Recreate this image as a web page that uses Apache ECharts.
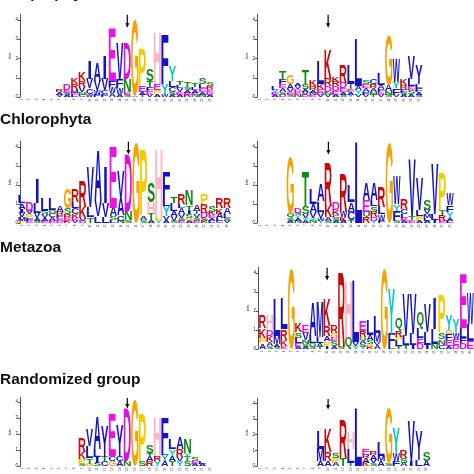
<!DOCTYPE html>
<html><head><meta charset="utf-8">
<script src="https://cdn.jsdelivr.net/npm/echarts@6/dist/echarts.min.js"></script>
<style>html,body{margin:0;padding:0;background:#fff}#c{width:474px;height:474px}</style>
</head><body><div id="c"></div>
<script>
// ---- data: each column lists [letter, bits] from bottom to top ('b' = drawn blue)
const titles = ['Streptophyta', 'Chlorophyta', 'Metazoa', 'Randomized group'];
const yTicks = [0, 1, 2, 3, 4];

const strepLeft = [
  [], [], [], [], [],
  [['V',.1],['A',.15],['R',.15]],
  [['A',.1],['S',.1],['E',.15],['D',.3]],
  [['L',.1],['E',.1],['M',.15],['R',.3],['K',.35]],
  [['C',.1],['N',.15],['V',.25],['R',.35],['K',.45]],
  [['W',.15],['C',.3],['V',.5],['I',.95]],
  [['F',.1],['W',.25],['V',.5],['A',.95]],
  [['F',.15],['C',.2],['V',.6],['I',1.2]],
  [['A',.2],['W',.3],['F',.35],['E',2.75]],
  [['A',.15],['W',.3],['F',.45],['V',1.95]],
  [['S',.1],['E',.15],['N',.7],['D',1.85]],
  [['A',.05],['G',3.95]],
  [['T',.1],['A',.15],['E',.35],['P',1.9]],
  [['V',.1],['E',.2],['F',.2],['T',.3],['S',.6]],
  [['A',.15],['P',.2],['E',.3],['H',2.7]],
  [['W',.15],['Y',.5],['F',2.55]],
  [['A',.1],['S',.15],['C',.25],['L',.35],['Y',.8]],
  [['A',.1],['E',.15],['V',.2],['L',.15],['T',.2]],
  [['R',.1],['E',.1],['A',.15],['S',.15],['T',.25]],
  [['N',.1],['E',.1],['A',.15],['L',.15],['T',.2]],
  [['N',.1],['A',.15],['E',.2],['L',.2],['S',.35]],
  [['A',.1],['D',.15],['E',.15],['R',.15],['S',.2]]
];
const strepRight = [
  [], [],
  [['A',.1],['E',.1],['Y',.15],['L',.2]],
  [['D',.1],['S',.15],['A',.2],['E',.2],['F',.25],['T',.45]],
  [['S',.1],['E',.15],['V',.15],['A',.25],['G',.45]],
  [['N',.1],['E',.15],['D',.15],['V',.15],['A',.15]],
  [['D',.1],['V',.15],['A',.15],['S',.3],['T',.75]],
  [['E',.1],['N',.1],['A',.15],['R',.2],['K',.3]],
  [['V',.1],['D',.1],['E',.2],['K',.25],['L',1.2]],
  [['V',.1],['N',.15],['D',.3],['R',.4],['K',1.55]],
  [['A',.1],['E',.2],['D',.25],['R',.25],['K',.25]],
  [['S',.1],['A',.15],['E',.2],['D',.3],['R',.95]],
  [['Y',.1],['A',.15],['E',.15],['T',.3],['L',1.0]],
  [['V',.15],['Y',.2],['A',.2],['L',2.45]],
  [['V',.1],['F',.15],['A',.2],['E',.2],['S',.2]],
  [['T',.1],['N',.15],['A',.2],['R',.2],['C',.25]],
  [['V',.1],['E',.15],['F',.15],['A',.2],['L',.6]],
  [['S',.1],['N',.2],['A',.3],['G',2.6]],
  [['V',.1],['F',.35],['Y',.35],['W',1.2]],
  [['A',.1],['S',.1],['F',.2],['R',.2],['K',.35]],
  [['A',.15],['S',.2],['E',.2],['L',.4],['V',1.2]],
  [['S',.1],['A',.15],['F',.2],['L',.2],['Y',1.0,'b']]
];
const chloroLeft = [
  [['P',.1],['M',.2],['V',.25],['I',.2],['A',.3],['L',.4]],
  [['E',.1],['F',.15],['P',.2],['V',.2],['D',.45]],
  [['S',.1],['A',.15],['V',.3],['L',.5],['I',1.3]],
  [['E',.1],['A',.15],['V',.2],['S',.2],['L',.7]],
  [['E',.1],['A',.2],['C',.2],['Q',.2],['L',.6]],
  [['D',.1],['E',.15],['F',.15],['R',.2],['A',.35]],
  [['K',.1],['E',.15],['R',.2],['S',.35],['G',1.0]],
  [['V',.1],['E',.15],['K',.2],['C',.35],['L',.3],['R',.7]],
  [['D',.1],['V',.15],['K',.6],['R',1.35]],
  [['T',.3],['L',.55],['V',2.1]],
  [['L',.35],['V',.8],['A',2.65]],
  [['L',.3],['V',.75],['I',1.9]],
  [['L',.15],['S',.2],['A',.45],['E',3.2]],
  [['N',.1],['C',.3],['A',.9],['V',1.4]],
  [['S',.15],['N',.45],['D',3.0]],
  [['G',4.25]],
  [['S',.15],['A',.2],['P',3.45]],
  [['A',.1],['T',.4],['H',.6],['S',1.05]],
  [['Y',.1],['P',.15],['H',3.6]],
  [['A',.15],['V',.2],['Y',.55],['L',.3],['F',1.5]],
  [['S',.1],['V',.25],['A',.3],['L',.4],['T',.35]],
  [['E',.1],['S',.15],['V',.2],['A',.35],['L',.2],['R',.55]],
  [['A',.1],['G',.15],['S',.2],['I',.2],['T',.3],['N',.8]],
  [['E',.1],['S',.15],['V',.2],['T',.2],['A',.35]],
  [['K',.1],['S',.15],['D',.3],['R',.45],['P',.55]],
  [['L',.1],['A',.15],['E',.15],['K',.2],['S',.35]],
  [['C',.1],['L',.15],['A',.25],['K',.3],['R',.55]],
  [['V',.1],['S',.15],['L',.2],['A',.35],['R',.55]]
];
const chloroRight = [
  [], [], [], [],
  [['A',.1],['S',.15],['Q',.25],['G',3.0]],
  [['N',.1],['A',.15],['Y',.15],['S',.15],['D',.25]],
  [['A',.1],['Y',.15],['V',.2],['S',.4],['T',1.85]],
  [['N',.1],['Y',.15],['V',.35],['A',.4],['L',.8]],
  [['Y',.1],['W',.15],['V',.35],['L',.55],['A',.85]],
  [['S',.1],['A',.2],['K',.6],['R',2.3]],
  [['A',.1],['S',.15],['C',.15],['K',.3],['D',.4]],
  [['A',.1],['K',.2],['W',.3],['R',2.0]],
  [['T',.15],['C',.45],['A',.5],['L',.9]],
  [['L',4.25]],
  [['R',.3],['Q',.3],['E',.6],['A',.85]],
  [['Y',.1],['D',.2],['R',.3],['S',.3],['L',.3],['A',.85]],
  [['F',.1],['W',.35],['L',.4],['R',1.05]],
  [['G',4.25]],
  [['S',.1],['F',.55],['Y',.35],['W',1.45]],
  [['A',.1],['E',.15],['L',.2],['C',.3],['R',.55]],
  [['E',.15],['T',.2],['V',2.95]],
  [['A',.1],['P',.25],['L',.35],['V',1.7]],
  [['A',.1],['L',.15],['M',.2],['V',.25],['S',.55]],
  [['I',.15],['L',.3],['V',2.6]],
  [['E',.1],['R',.3],['T',.25],['P',1.95]],
  [['L',.1],['A',.15],['Y',.35],['F',.35],['W',.6]]
];
const metazoaRight = [
  [['A',.3],['P',.3],['K',.5],['R',.7]],
  [['S',.15],['A',.2],['K',.35],['D',.35],['H',.75]],
  [['S',.1],['A',.15],['M',.45],['L',1.95]],
  [['E',.15],['K',.35],['R',.55],['L',1.6]],
  [['G',4.2]],
  [['A',.1],['E',.2],['L',.3],['S',.3],['K',.5]],
  [['A',.1],['S',.15],['N',.2],['V',.4],['E',.4]],
  [['S',.1],['Q',.2],['L',.4],['A',1.8]],
  [['T',.1],['A',.2],['L',.35],['M',1.85]],
  [['I',.1],['P',.3],['A',.3],['R',.5],['K',1.45]],
  [['A',.15],['S',.25],['E',.2],['G',.25],['R',.4]],
  [['S',.1],['R',3.9]],
  [['Q',.6],['H',3.0]],
  [['Y',.15],['V',.2],['L',3.25]],
  [['Y',.1],['S',.15],['A',.2],['Q',.2],['R',.3],['E',.5]],
  [['K',.1],['G',.15],['S',.2],['A',.3],['L',.8]],
  [['A',.2],['V',.15],['M',.5],['L',.85]],
  [['G',4.2]],
  [['L',.2],['F',.6],['Y',2.35]],
  [['T',.15],['L',.3],['P',.2],['R',.3],['Q',.65]],
  [['T',.2],['L',.5],['V',2.2]],
  [['I',.2],['L',.6],['V',2.1]],
  [['D',.3],['E',.3],['L',.5],['Q',.85]],
  [['I',.2],['L',.7],['V',1.5]],
  [['N',.25],['L',.8],['I',1.6]],
  [['C',.2],['N',.3],['S',.35],['P',2.0]],
  [['A',.15],['E',.3],['F',.35],['G',.2],['Y',.8]],
  [['D',.2],['E',.35],['W',.35],['Y',.7]],
  [['D',.3],['F',.3],['L',.5],['E',2.85]],
  [['E',.4],['L',.9],['W',1.6]]
];
const randomLeft = [
  [], [], [], [], [], [], [], [],
  [['S',.15],['P',.3],['K',.45],['R',.9]],
  [['G',.15],['T',.35],['L',.75],['V',1.0]],
  [['S',.2],['I',.4],['L',.5],['A',2.0]],
  [['C',.3],['T',.3],['Y',1.95,'b']],
  [['G',.3],['C',.35],['E',2.6]],
  [['A',.3],['C',.3],['Y',2.0,'b']],
  [['N',.35],['D',3.3]],
  [['G',4.15]],
  [['S',.3],['P',3.0]],
  [['R',.3],['A',.3],['T',.2],['S',.5]],
  [['Y',.3],['R',.35],['H',2.4]],
  [['A',.3],['Y',.4],['L',.3],['F',2.05]],
  [['T',.3],['A',.35],['Y',.4],['L',.6]],
  [['Y',.3],['V',.25],['R',.5],['A',.75]],
  [['S',.3],['T',.3],['Y',.2],['N',.85]],
  [['A',.15],['E',.15],['S',.2]],
  [['A',.15],['L',.15]],
  []
];
const randomRight = [
  [], [], [], [], [], [], [], [],
  [['A',.3],['M',.8],['L',1.15]],
  [['A',.3],['R',.6],['K',1.5]],
  [['A',.2],['P',.3],['S',.35]],
  [['T',.5],['R',2.45]],
  [['T',.2],['L',.9],['H',1.05]],
  [['L',3.7]],
  [['K',.2],['A',.3],['R',.2],['E',.4]],
  [['S',.2],['V',.2],['A',.3],['R',.2]],
  [['A',.3],['M',.35],['L',.9]],
  [['S',.2],['G',3.5]],
  [['F',.3],['W',.5],['Y',1.6]],
  [['A',.2],['S',.3],['R',.5]],
  [['I',.3],['V',2.55]],
  [['L',.4],['Y',1.9,'b']],
  [['A',.3],['S',.55]]
];
// marked site (1-based column) of each panel
const arrowSites = [15, 10, 15, 10, 10, 15, 10];
const arrowTail = 4.27, arrowHead = 3.6;

// ---- styling
const BLUE = '#1414c4';
const COLOR = {A:BLUE,V:BLUE,L:BLUE,I:BLUE,M:BLUE,F:BLUE,W:BLUE,C:BLUE,
  G:'#f5a300',P:'#f0cc00',E:'#ee10e6',D:'#e010dc',K:'#cc0a0a',R:'#cc0a0a',
  H:'#ffb4be',S:'#118a11',T:'#118a11',N:'#118a11',Q:'#118a11',Y:'#00c8c8'};
const FONT_FAMILY = 'Liberation Sans';
const mctx = document.createElement('canvas').getContext('2d');
mctx.font = 'bold 100px ' + FONT_FAMILY;
mctx.textBaseline = 'middle';
mctx.textAlign = 'left';
const metricCache = {};
function metrics(ch) {
  if (!metricCache[ch]) {
    const m = mctx.measureText(ch);
    metricCache[ch] = {l: m.actualBoundingBoxLeft, r: m.actualBoundingBoxRight,
      a: m.actualBoundingBoxAscent, d: m.actualBoundingBoxDescent};
  }
  return metricCache[ch];
}

// panel layout: [columns, left px, band px, zero-line y px, px per bit, axis x px]
const panels = [
  {cols: strepLeft,  left: 18.24, band: 7.52, zero: 97,    ppb: 19.25, axisX: 20},
  {cols: strepRight, left: 256.2, band: 7.57, zero: 97,    ppb: 19.25, axisX: 257},
  {cols: chloroLeft, left: 18.2,  band: 7.6,  zero: 223,   ppb: 19,    axisX: 20},
  {cols: chloroRight,left: 256.2, band: 7.6,  zero: 223,   ppb: 19,    axisX: 257},
  {cols: metazoaRight,left: 259,  band: 7.36, zero: 349,   ppb: 19,    axisX: 258},
  {cols: randomLeft, left: 18.24, band: 7.52, zero: 482,   ppb: 19.67, axisX: 20},
  {cols: randomRight,left: 256.2, band: 7.57, zero: 481.7, ppb: 19.33, axisX: 257}
];
const YMAX = 4.3;

function logoRenderer(cols) {
  return function (params, api) {
    const i = api.value(0);
    const col = cols[i] || [];
    const bw = api.size([1, 0])[0];
    const cx = api.coord([i, 0])[0];
    const children = [];
    let cum = 0;
    for (const item of col) {
      const ch = item[0], h = item[1], alt = item[2];
      const yb = api.coord([i, cum])[1];
      const yt = api.coord([i, cum + h])[1];
      cum += h;
      const m = metrics(ch);
      const w = bw * 0.95 * (ch === 'I' ? 0.4 : 1);
      const sx = w / (m.l + m.r);
      const sy = (yb - yt) / (m.a + m.d);
      children.push({
        type: 'text', silent: true,
        x: cx - w / 2 + m.l * sx, y: yt + m.a * sy, scaleX: sx, scaleY: sy,
        style: {text: ch, x: 0, y: 0, fill: alt === 'b' ? BLUE : COLOR[ch],
          fontSize: 100, fontWeight: 'bold', fontFamily: FONT_FAMILY,
          align: 'left', verticalAlign: 'middle'}
      });
    }
    return {type: 'group', children};
  };
}
function arrowRenderer(params, api) {
  const i = api.value(0);
  const p1 = api.coord([i, arrowTail]);
  const y2 = api.coord([i, arrowHead])[1];
  const x = p1[0];
  return {type: 'group', children: [
    {type: 'line', shape: {x1: x, y1: p1[1], x2: x, y2: y2 - 3}, style: {stroke: '#000', lineWidth: 1.2}},
    {type: 'polygon', shape: {points: [[x - 2, y2 - 4.5], [x + 2, y2 - 4.5], [x, y2]]}, style: {fill: '#000'}}
  ]};
}

const grid = [], xAxis = [], yAxis = [], series = [];
panels.forEach((p, k) => {
  const n = p.cols.length;
  const h = YMAX * p.ppb;
  grid.push({left: p.left, top: p.zero - h, width: n * p.band, height: h, containLabel: false});
  xAxis.push({type: 'category', gridIndex: k, data: p.cols.map((c, i) => String(i + 1)),
    axisLine: {show: false}, axisTick: {show: false}, splitLine: {show: false},
    axisLabel: {interval: 0, rotate: 90, fontSize: 3, margin: 1.5, color: '#444', fontFamily: 'Liberation Sans'}});
  yAxis.push({type: 'value', gridIndex: k, min: 0, max: YMAX, interval: 1, offset: p.left - p.axisX,
    name: 'bits', nameLocation: 'middle', nameGap: 7,
    nameTextStyle: {fontSize: 4, color: '#222', fontFamily: 'Liberation Sans'},
    axisLine: {show: true, lineStyle: {color: '#222', width: 0.8}},
    axisTick: {show: true, length: 2, customValues: yTicks, lineStyle: {color: '#222', width: 0.8}},
    axisLabel: {fontSize: 4.5, margin: 2, color: '#222', customValues: yTicks, fontFamily: 'Liberation Sans'},
    splitLine: {show: false}});
  series.push({type: 'custom', xAxisIndex: k, yAxisIndex: k, renderItem: logoRenderer(p.cols),
    data: p.cols.map((c, i) => [i, c.reduce((s, e) => s + e[1], 0)]), encode: {x: 0, y: 1},
    clip: false, silent: true, animation: false});
  series.push({type: 'custom', xAxisIndex: k, yAxisIndex: k, renderItem: arrowRenderer,
    data: [[arrowSites[k] - 1, arrowTail]], encode: {x: 0, y: 1}, clip: false, silent: true, animation: false});
});

const titleY = [-5.9, 119.7, 247.3, 379.6];
const chart = echarts.init(document.getElementById('c'), null, {renderer: 'canvas'});
chart.setOption({
  backgroundColor: '#fff',
  animation: false,
  grid, xAxis, yAxis, series,
  graphic: titles.map((t, i) => ({type: 'text', x: 0, y: titleY[i], silent: true,
    style: {text: t, fill: '#111', fontSize: 15.5, fontWeight: 'bold', fontFamily: 'Liberation Sans', verticalAlign: 'middle'}}))
});
</script></body></html>
